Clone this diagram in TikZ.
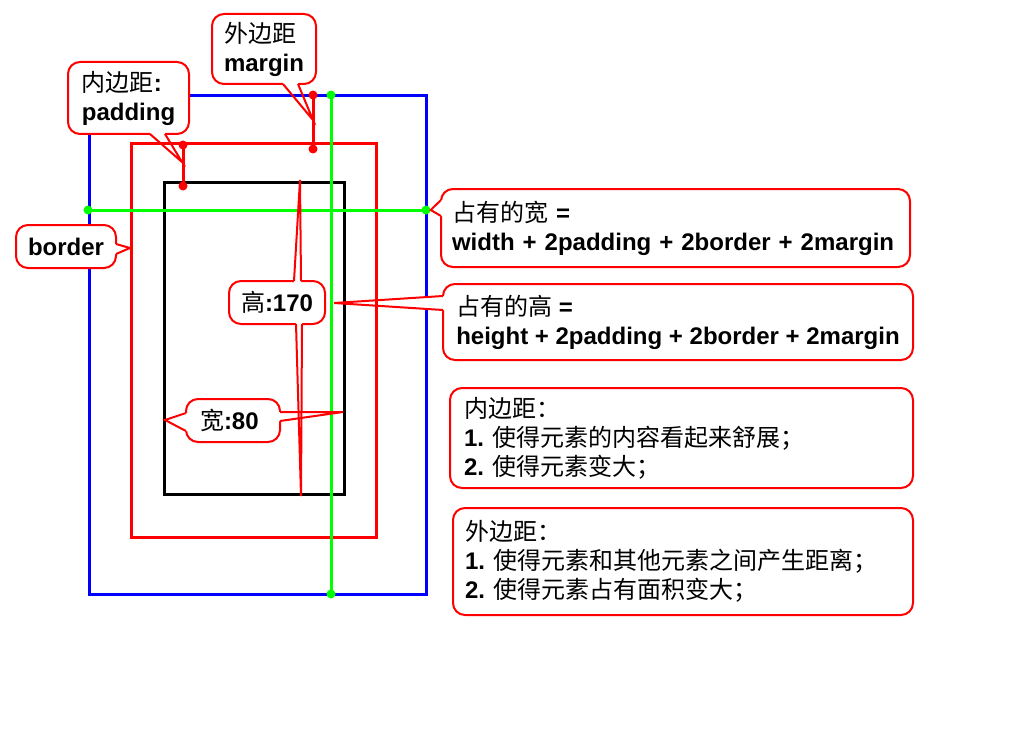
\documentclass[tikz,border=0pt]{standalone}
\usepackage{fontspec}
\setmainfont{Liberation Sans}
\newfontfamily\cjk{Noto Sans CJK SC}
\usetikzlibrary{calc}
\definecolor{boxBlue}{HTML}{0000FF}
\definecolor{boxRed}{HTML}{FF0000}
\definecolor{guideGreen}{HTML}{00FF00}
\newcommand{\zh}[1]{{\mdseries\cjk #1}}

\begin{document}
\begin{tikzpicture}[
  x=1pt, y=-1pt,
  font=\fontsize{24}{29}\selectfont\bfseries,
  frame/.style={line width=3pt},
  guide/.style={draw=guideGreen, line width=3pt},
  gapline/.style={draw=boxRed, line width=3pt},
  gdot/.style={circle, fill=guideGreen, inner sep=0pt, minimum size=9pt},
  rdot/.style={circle, fill=boxRed, inner sep=0pt, minimum size=9pt},
  bubble/.style={draw=boxRed, line width=2pt, fill=white, rounded corners=12pt, anchor=north west,
    align=left, inner xsep=12pt, inner ysep=0pt, outer sep=0pt},
  tailline/.style={draw=boxRed, line width=2pt, line join=miter}
]
\useasboundingbox (0,0) rectangle (1024,738);
\newcommand{\calloutTail}[4]{%
  \fill[white] ($#1+#4$) -- #1 -- ($#1!0.2!(#3)$) -- ($#2!0.2!(#3)$) -- #2 -- ($#2+#4$) -- cycle;
  \draw[tailline] #1 -- (#3) -- #2;
}

\draw[frame, boxBlue] (89,96) rectangle (426,594);
\draw[frame, boxRed] (131,144) rectangle (376,537);
\draw[frame, black] (164,182) rectangle (344,494);

\node[gdot] (gl) at (88,210) {};
\node[gdot] (gr) at (426,210) {};
\node[gdot] (gtop) at (331,95) {};
\node[gdot] (gbot) at (331,594) {};
\node[rdot] (mtop) at (313,95) {};
\node[rdot] (mbot) at (313,149) {};
\node[rdot] (ptop) at (183,145) {};
\node[rdot] (pbot) at (183,186) {};
\draw[guide] (gl.center) -- (gr.center);
\draw[guide] (gtop.center) -- (gbot.center);
\draw[gapline] (mtop.center) -- (mbot.center);
\draw[gapline] (ptop.center) -- (pbot.center);

\coordinate (mtip) at (313,120);
\coordinate (ptip) at (182,162);
\coordinate (btip) at (130,248);
\coordinate (htip) at (334,303);
\coordinate (hup) at (300,180);
\coordinate (hdown) at (301,496);
\coordinate (wleft) at (165,420);
\coordinate (wright) at (343,412);

\node[bubble, minimum width=104pt, minimum height=70pt] (marginbox) at (212,14) {\zh{外边距}\\margin};
\node[bubble, minimum width=121pt, minimum height=72pt] (padbox) at (68,62) {\zh{内边距}:\\padding};
\node[bubble, minimum width=99pt, minimum height=43pt, align=center] (brdbox) at (16,225) {border};
\node[bubble, inner xsep=11pt, text width=447pt, minimum height=78pt] (widebox) at (441,189)
  {\zh{占有的宽} =\\width + 2padding + 2border + 2margin};
\node[bubble, minimum width=470pt, minimum height=76pt] (highbox) at (443,284)
  {\zh{占有的高} =\\height + 2padding + 2border + 2margin};
\node[bubble, minimum width=94pt, minimum height=43pt, align=center] (hgtbox) at (229,281) {\zh{高}:170};
\node[bubble, inner xsep=14pt, text width=66pt, minimum height=43pt] (wdtbox) at (186,399) {\zh{宽}:80};
\node[bubble, inner xsep=14pt, text width=435pt, minimum height=100pt] (padnote) at (450,388)
  {\zh{内边距：}\\1.~\zh{使得元素的内容看起来舒展；}\\2.~\zh{使得元素变大；}};
\node[bubble, inner xsep=12pt, text width=436pt, minimum height=107pt] (marnote) at (453,508)
  {\zh{外边距：}\\1.~\zh{使得元素和其他元素之间产生距离；}\\2.~\zh{使得元素占有面积变大；}};

\calloutTail{([xshift=71pt]marginbox.south west)}{([xshift=86pt]marginbox.south west)}{mtip}{(0,-3)}
\calloutTail{([xshift=82pt]padbox.south west)}{([xshift=97pt]padbox.south west)}{ptip}{(0,-3)}
\calloutTail{([yshift=-19pt]brdbox.north east)}{([yshift=-29pt]brdbox.north east)}{btip}{(-3,0)}
\calloutTail{([yshift=-11pt]widebox.north west)}{([yshift=-27pt]widebox.north west)}{gr.east}{(3,0)}
\calloutTail{([yshift=-12pt]highbox.north west)}{([yshift=-26pt]highbox.north west)}{htip}{(3,0)}
\calloutTail{([xshift=65pt]hgtbox.north west)}{([xshift=72pt]hgtbox.north west)}{hup}{(0,3)}
\calloutTail{([xshift=67pt]hgtbox.south west)}{([xshift=73pt]hgtbox.south west)}{hdown}{(0,-3)}
\calloutTail{([yshift=-14pt]wdtbox.north west)}{([yshift=-32pt]wdtbox.north west)}{wleft}{(3,0)}
\calloutTail{([yshift=-13pt]wdtbox.north east)}{([yshift=-22pt]wdtbox.north east)}{wright}{(-3,0)}
\end{tikzpicture}
\end{document}
